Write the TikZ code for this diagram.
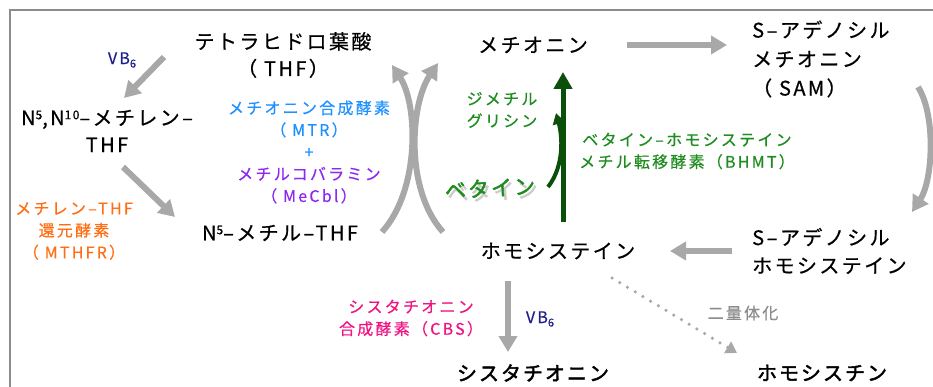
\documentclass[tikz,border=0pt]{standalone}
\usepackage{fontspec}
\setmainfont{Noto Sans CJK JP}[LetterSpace=12, RawFeature={embolden=0.6}]
\newfontfamily\heavyfont{Noto Sans CJK JP}[LetterSpace=10, RawFeature={embolden=2.2}]
\newfontfamily\enzfont{Noto Sans CJK JP}[LetterSpace=14, RawFeature={embolden=0.5}]
\usetikzlibrary{arrows.meta}
\definecolor{arrgray}{RGB}{168,168,168}
\definecolor{framegray}{RGB}{140,140,140}
\definecolor{navyvb}{RGB}{30,30,140}
\definecolor{mtrblue}{RGB}{30,144,255}
\definecolor{cblpurple}{RGB}{140,40,240}
\definecolor{mthfrorange}{RGB}{255,110,20}
\definecolor{txtgreen}{RGB}{30,140,30}
\definecolor{darkgr}{RGB}{10,80,10}
\definecolor{cbspink}{RGB}{240,20,130}
\newcommand\mainsz{\fontsize{20}{27}\selectfont}
\newcommand\enzsz{\enzfont\fontsize{16}{22}\selectfont}
\newcommand\supn[1]{\raisebox{0.55ex}{\fontsize{12}{12}\selectfont #1}}
\newcommand\subn[1]{\raisebox{-0.4ex}{\fontsize{11}{11}\selectfont #1}}
\tikzset{
  mainlbl/.style={inner sep=0pt, align=center, font=\mainsz, text=black},
  enzlbl/.style={inner sep=0pt, align=center, font=\enzsz},
  grayarr/.style={draw=arrgray, line width=6pt, -{Triangle[width=18pt,length=16pt]}},
  greenarr/.style={draw=darkgr, line width=5pt, -{Triangle[width=18pt,length=17pt]}},
  smallgreenarr/.style={draw=darkgr, line width=4pt, -{Triangle[width=12pt,length=11pt]}},
  dotarr/.style={draw=arrgray, line width=3.5pt, dash pattern=on 0pt off 9pt, line cap=round, -{Triangle[width=13pt,length=11pt]}},
}
\begin{document}
\begin{tikzpicture}[x=1pt,y=-1pt]
\useasboundingbox (0,0) rectangle (933,387);
% frame
\draw[framegray, line width=2pt] (10,390) -- (10,10) -- (940,10);

% main nodes
\node[mainlbl] (thf) at (283,55) {テトラヒドロ葉酸\\（ THF）};
\node[mainlbl] (mthf) at (107,131) {N\supn{5},N\supn{10}–メチレン–\\THF};
\node[mainlbl] (m5thf) at (280,233) {N\supn{5}–メチル–THF};
\node[mainlbl] (met) at (533,45) {メチオニン};
\node[mainlbl, anchor=west, align=left, font=\fontsize{20}{29}\selectfont] (sam) at (752,59) {S–アデノシル\\メチオニン\\（ SAM）};
\node[mainlbl, anchor=west, align=left, font=\fontsize{20}{28}\selectfont] (sah) at (752,251) {S–アデノシル\\ホモシステイン};
\node[mainlbl] (hcy) at (558,251) {ホモシステイン};
\node[mainlbl, font=\heavyfont\fontsize{20}{24}\selectfont] (cysta) at (533,373) {シスタチオニン};
\node[mainlbl, font=\heavyfont\fontsize{20}{24}\selectfont] (hcys) at (822,373) {ホモシスチン};

% enzyme / label nodes
\node[enzlbl] (vba) at (122,60) {\textcolor{navyvb}{VB\subn{6}}};
\node[enzlbl] (vbb) at (540,319) {\textcolor{navyvb}{VB\subn{6}}};
\node[enzlbl, text=mthfrorange] (mthfr) at (74,231) {メチレン–THF\\還元酵素\\（ MTHFR）};
\node[enzlbl] (mtr) at (309,152) {\textcolor{mtrblue}{メチオニン合成酵素}\\\textcolor{mtrblue}{（ MTR）}\\\textcolor{mtrblue}{+}\\\textcolor{cblpurple}{メチルコバラミン}\\\textcolor{cblpurple}{（ MeCbl）}};
\node[enzlbl, text=txtgreen] (dmg) at (502,110) {ジメチル\\グリシン};
\node[enzlbl, text=txtgreen] (bhmt) at (687,151) {ベタイン–ホモシステイン\\メチル転移酵素（BHMT）};
\node[enzlbl, text=cbspink] (cbs) at (411,318) {シスタチオニン\\合成酵素（CBS）};
\node[enzlbl, text=framegray] (dimer) at (743,313) {二量体化};
\node[inner sep=0pt, font=\heavyfont\fontsize{21}{24}\selectfont, text=black!20, rotate=3] (betsh) at (492.5,191.5) {ベタイン};
\node[inner sep=0pt, font=\heavyfont\fontsize{21}{24}\selectfont, text=txtgreen, rotate=3] (bet) at (490,188) {ベタイン};

% connectors
\draw[grayarr] ([shift={(-119,2)}]thf.center) -- ([shift={(17,-33)}]mthf.center);
\draw[grayarr] ([shift={(16,36)}]mthf.center) -- ([shift={(-105,-16)}]m5thf.center);
\draw[grayarr] ([shift={(102,-1)}]m5thf.center) .. controls (420,190) and (418,105) .. ([shift={(109,10)}]thf.center);
\draw[grayarr] ([shift={(-115,-19)}]hcy.center) .. controls (405,190) and (410,105) .. ([shift={(-95,18)}]met.center);
\draw[grayarr] ([shift={(94,0)}]met.center) -- ([shift={(-25,-14)}]sam.west);
\draw[grayarr] ([shift={(166,28)}]sam.west) .. controls (936,115) and (933,180) .. ([shift={(160,-39)}]sah.west);
\draw[grayarr] ([shift={(-20,0)}]sah.west) -- ([shift={(112,0)}]hcy.center);
\draw[greenarr] ([shift={(5,-29)}]hcy.center) -- ([shift={(30,27)}]met.center);
\draw[smallgreenarr] ([shift={(58,-1)}]bet.center) .. controls (565,165) and (562,135) .. ([shift={(54,3)}]dmg.center);
\draw[grayarr] ([shift={(-50,30)}]hcy.center) -- ([shift={(-25,-21)}]cysta.center);
\draw[dotarr] ([shift={(54,27)}]hcy.center) -- ([shift={(-85,-20)}]hcys.center);
\end{tikzpicture}
\end{document}
